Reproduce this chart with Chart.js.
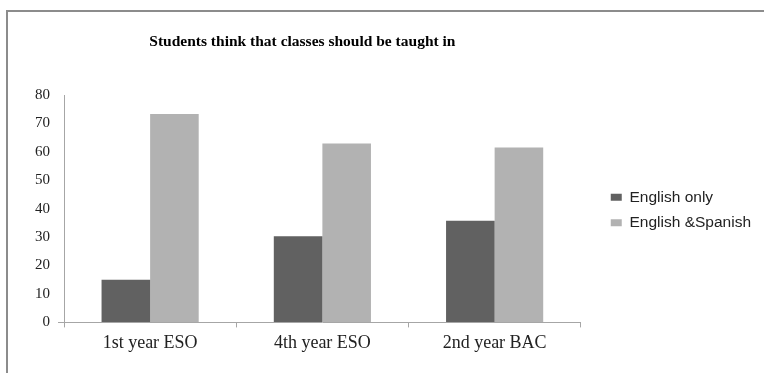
<!DOCTYPE html>
<html>
<head>
<meta charset="utf-8">
<script src="https://cdn.jsdelivr.net/npm/chart.js@4"></script>
<style>
  html, body { margin: 0; padding: 0; background: #fff; }
  #wrap { position: relative; width: 764px; height: 373px; }
</style>
</head>
<body>
<div id="wrap"><canvas id="chart" width="764" height="373"></canvas></div>
<script>
const chartTitle = 'Students think that classes should be taught in';
const years = ['1st year ESO', '4th year ESO', '2nd year BAC'];
const seriesNames = ['English only', 'English &Spanish'];
const englishOnly = [15, 30.3, 35.8];
const englishSpanish = [73.3, 62.9, 61.5];
const yTicks = [0, 10, 20, 30, 40, 50, 60, 70, 80];

// frame lines along top and left edge, the title, and the legend nudged right/up
const frame = {
  id: 'frame',
  afterLayout(chart) {
    const lg = chart.legend;
    lg.left += 20;
    lg.right += 20;
    lg.top -= 17;
    lg.bottom -= 17;
  },
  beforeDraw(chart) {
    const ctx = chart.ctx;
    ctx.save();
    ctx.strokeStyle = '#8c8c8c';
    ctx.lineWidth = 2;
    ctx.beginPath();
    ctx.moveTo(7, 373);
    ctx.lineTo(7, 11);
    ctx.lineTo(764, 11);
    ctx.stroke();
    ctx.restore();
  },
  afterDraw(chart) {
    const { ctx, chartArea } = chart;
    ctx.save();
    ctx.font = 'bold 15.5px "Liberation Serif", serif';
    ctx.fillStyle = '#000';
    ctx.textAlign = 'center';
    ctx.textBaseline = 'middle';
    ctx.fillText(chartTitle, (chartArea.left + chartArea.right) / 2 - 20, 42);
    ctx.restore();
  }
};

new Chart(document.getElementById('chart'), {
  type: 'bar',
  data: {
    labels: years,
    datasets: [
      { label: seriesNames[0], data: englishOnly, backgroundColor: '#616161' },
      { label: seriesNames[1], data: englishSpanish, backgroundColor: '#b2b2b2' }
    ]
  },
  options: {
    responsive: false,
    animation: false,
    layout: { padding: { top: 95, left: 27, right: 23, bottom: 14 } },
    datasets: { bar: { categoryPercentage: 0.564, barPercentage: 1 } },
    plugins: {
      title: { display: false },
      tooltip: { enabled: false },
      legend: {
        position: 'right',
        labels: {
          boxWidth: 11,
          boxHeight: 7,
          padding: 10,
          color: '#222',
          font: { family: '"Liberation Sans", sans-serif', size: 15.5 }
        }
      }
    },
    scales: {
      x: {
        grid: { display: true, drawOnChartArea: false, drawTicks: true, tickLength: 5, color: '#a6a6a6' },
        border: { display: true, color: '#a6a6a6', width: 1 },
        ticks: { color: '#222', padding: 5, font: { family: '"Liberation Serif", serif', size: 18 } }
      },
      y: {
        min: 0,
        max: 80,
        afterBuildTicks(axis) { axis.ticks = yTicks.map(v => ({ value: v })); },
        grid: {
          display: true,
          drawOnChartArea: false,
          drawTicks: true,
          tickLength: 6,
          color: (c) => (c.tick && c.tick.value === 0 ? '#a6a6a6' : 'rgba(0,0,0,0)')
        },
        border: { display: true, color: '#a6a6a6', width: 1 },
        ticks: { color: '#222', padding: 8, font: { family: '"Liberation Serif", serif', size: 15 } }
      }
    }
  },
  plugins: [frame]
});
</script>
</body>
</html>
